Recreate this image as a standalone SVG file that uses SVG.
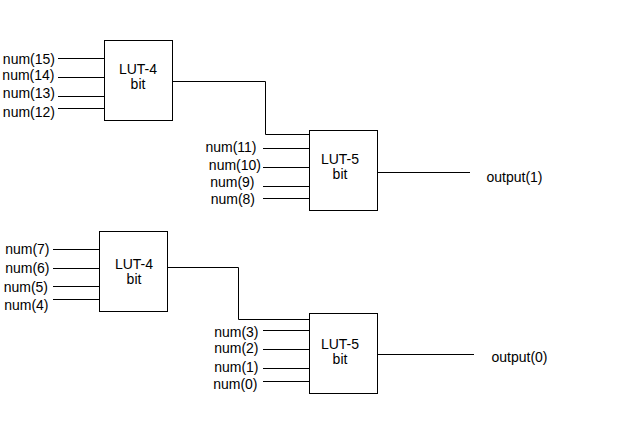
<svg xmlns="http://www.w3.org/2000/svg" width="624" height="428" viewBox="0 0 624 428">
<style>
.box{fill:#fff;stroke:#000;stroke-width:1}
.w{fill:none;stroke:#000;stroke-width:1}
text{font-family:"Liberation Sans",Arial,sans-serif;font-size:14px;fill:#000}
.c{text-anchor:middle}
.e{text-anchor:end}
</style>
<rect width="624" height="428" fill="#fff"/>
<g id="connectors">
<path class="w" d="M172 81.5H265.5V134.5H309"/>
<path class="w" d="M167 267.5H238.5V319.5H309"/>
<path class="w" d="M58 58.5H104M58 77.5H104M58 96.5H104M58 108.5H104"/>
<path class="w" d="M263 148.5H309M263 167.5H309M263 186.5H309M263 198.5H309"/>
<path class="w" d="M377 172.5H470"/>
<path class="w" d="M53 249.5H99M53 268.5H99M53 286.5H99M53 299.5H99"/>
<path class="w" d="M263 330.5H309M263 349.5H309M263 368.5H309M263 381.5H309"/>
<path class="w" d="M377 354.5H474"/>
</g>
<g id="lut4_top">
<rect class="box" x="104.5" y="40.5" width="68" height="80"/>
<text class="c" x="138" y="74">LUT-4</text>
<text class="c" x="138" y="89">bit</text>
</g>
<g id="lut5_top">
<rect class="box" x="309.5" y="130.5" width="68" height="80"/>
<text class="c" x="340" y="164">LUT-5</text>
<text class="c" x="340" y="179">bit</text>
</g>
<g id="lut4_bottom">
<rect class="box" x="99.5" y="231.5" width="68" height="80"/>
<text class="c" x="134" y="269">LUT-4</text>
<text class="c" x="134" y="284">bit</text>
</g>
<g id="lut5_bottom">
<rect class="box" x="309.5" y="313.5" width="68" height="80"/>
<text class="c" x="340" y="349">LUT-5</text>
<text class="c" x="340" y="364">bit</text>
</g>
<g id="inputs_top">
<text class="e" x="55" y="63.5">num(15)</text>
<text class="e" x="54.5" y="79.5">num(14)</text>
<text class="e" x="55" y="98">num(13)</text>
<text class="e" x="55" y="117">num(12)</text>
</g>
<g id="inputs_mid">
<text class="e" x="256.5" y="152">num(11)</text>
<text class="e" x="261" y="170">num(10)</text>
<text class="e" x="254.5" y="187">num(9)</text>
<text class="e" x="255" y="204">num(8)</text>
</g>
<g id="inputs_low">
<text class="e" x="49.5" y="254">num(7)</text>
<text class="e" x="49.5" y="273">num(6)</text>
<text class="e" x="48" y="291.5">num(5)</text>
<text class="e" x="48.5" y="310">num(4)</text>
</g>
<g id="inputs_bottom">
<text class="e" x="258.5" y="336.5">num(3)</text>
<text class="e" x="258.5" y="353">num(2)</text>
<text class="e" x="258.5" y="372">num(1)</text>
<text class="e" x="257.5" y="389">num(0)</text>
</g>
<g id="output1"><text x="486.5" y="182">output(1)</text></g>
<g id="output0"><text x="491.5" y="361.5">output(0)</text></g>
</svg>
